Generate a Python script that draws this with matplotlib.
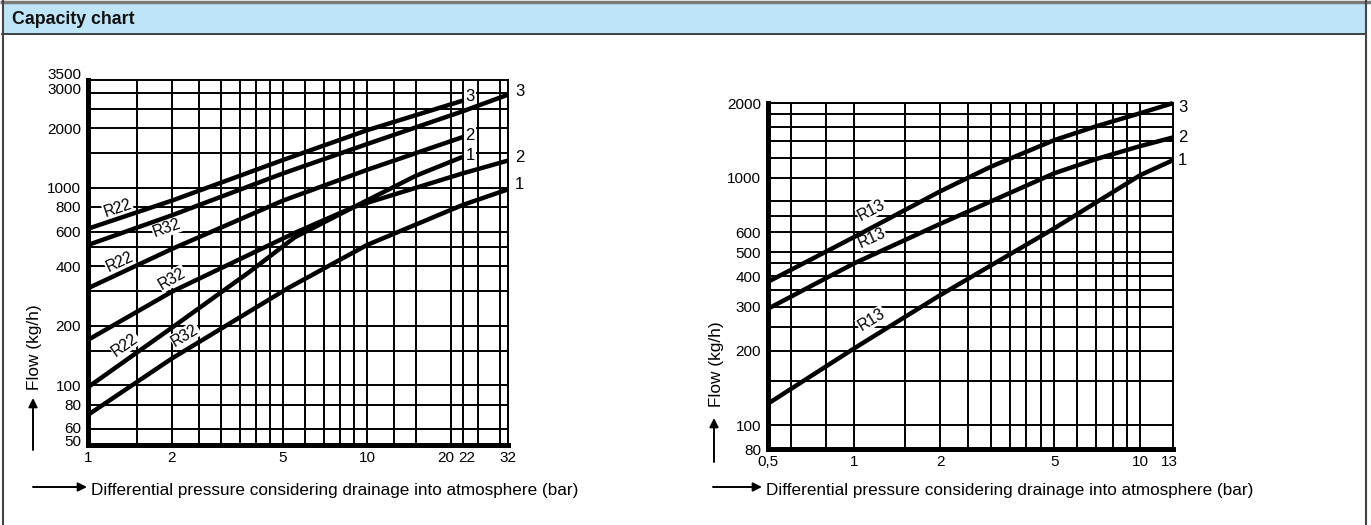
import numpy as np
import matplotlib
matplotlib.use("Agg")
import matplotlib.pyplot as plt
import matplotlib.transforms as mtransforms

plt.rcParams['font.family'] = ['Liberation Sans', 'DejaVu Sans']

# ---------------- data ----------------
title = "Capacity chart"
x_label = "Differential pressure considering drainage into atmosphere (bar)"
y_label = "Flow (kg/h)"

# left chart (R22 / R32)
left_xlim = (1, 32)
left_ylim = (50, 3500)
left_x_ticks = [1, 2, 5, 10, 20, 22, 32]
left_x_ticklabels = ["1", "2", "5", "10", "20", "22", "32"]
left_y_ticks = [50, 60, 80, 100, 200, 400, 600, 800, 1000, 2000, 3000, 3500]
left_y_ticklabels = ["50", "60", "80", "100", "200", "400", "600", "800", "1000", "2000", "3000", "3500"]
left_x_grid = [1, 1.5, 2, 2.5, 3, 3.5, 4, 4.5, 5, 6, 7, 8, 9, 10, 12.5, 15, 20, 22, 25, 30, 32]
left_y_grid = [50, 60, 80, 100, 150, 200, 300, 400, 500, 600, 800, 1000, 1500, 2000, 2500, 3000, 3500]

r22_3_x = [1, 2, 5, 10, 22]
r22_3_y = [620, 860, 1380, 1950, 2750]
r32_3_x = [1, 2, 5, 10, 22, 32]
r32_3_y = [513, 725, 1180, 1660, 2430, 2950]
r22_2_x = [1, 2, 5, 10, 22]
r22_2_y = [310, 490, 860, 1230, 1800]
r32_2_x = [1, 2, 5.5, 9, 22, 32]
r32_2_y = [170, 298, 590, 800, 1180, 1370]
r22_1_x = [1, 2, 3.8, 5.5, 9, 15, 22]
r22_1_y = [98, 196, 376, 560, 800, 1150, 1430]
r32_1_x = [1, 2, 5.2, 10, 22, 32]
r32_1_y = [71, 137, 310, 513, 817, 980]

# right chart (R13)
right_xlim = (0.5, 13)
right_ylim = (80, 2000)
right_x_ticks = [0.5, 1, 2, 5, 10, 13]
right_x_ticklabels = ["0,5", "1", "2", "5", "10", "13"]
right_y_ticks = [80, 100, 200, 300, 400, 500, 600, 1000, 2000]
right_y_ticklabels = ["80", "100", "200", "300", "400", "500", "600", "1000", "2000"]
right_x_grid = [0.5, 0.6, 0.8, 1, 1.5, 2, 2.5, 3, 3.5, 4, 4.5, 5, 6, 7, 8, 9, 10, 13]
right_y_grid = [80, 100, 150, 200, 250, 300, 350, 400, 450, 500, 600, 700, 800,
                1000, 1200, 1400, 1600, 1800, 2000]

r13_3_x = [0.5, 1, 2, 3, 5, 7, 10, 13]
r13_3_y = [379, 575, 880, 1105, 1416, 1610, 1820, 1997]
r13_2_x = [0.5, 1, 2, 5, 7, 10, 13]
r13_2_y = [295, 450, 650, 1040, 1187, 1340, 1452]
r13_1_x = [0.5, 1, 2, 5, 10, 13]
r13_1_y = [122, 204, 335, 623, 1023, 1175]

# ---------------- figure ----------------
W, H = 1371, 525
DPI = 100
fig = plt.figure(figsize=(W / DPI, H / DPI), dpi=DPI)
fig.patch.set_facecolor("white")


def px_box(l, t, r, b):
    return [l / W, 1 - b / H, (r - l) / W, (b - t) / H]


bg = fig.add_axes([0, 0, 1, 1], zorder=0)
bg.set_xlim(0, W)
bg.set_ylim(H, 0)
bg.axis("off")

# header band and frame
bg.add_patch(plt.Rectangle((2, 2), 1364, 32, facecolor="#BEE4F8", edgecolor="none"))
bg.plot([0, W], [1.5, 1.5], color="#7a7a7a", lw=2.5, solid_capstyle="butt")
bg.plot([2, 1366], [34, 34], color="#333333", lw=1.3)
bg.plot([2.5, 2.5], [0, H], color="#444444", lw=1.5)
bg.plot([1366, 1366], [0, H], color="#444444", lw=1.5)
bg.text(12, 19, title, fontsize=12.8, fontweight="bold", ha="left", va="center", color="#111111")

GRID_LW = 1.4
CURVE_LW = 3.2
TICK_FS = 11


def shift(label, dx, dy):
    label.set_transform(label.get_transform()
                        + mtransforms.ScaledTranslation(dx / DPI, dy / DPI, fig.dpi_scale_trans))


def setup_axes(box, xlim, ylim, xgrid, ygrid, xticks, xticklabels, yticks, yticklabels):
    ax = fig.add_axes(px_box(*box), zorder=2)
    ax.set_xscale("log")
    ax.set_yscale("log")
    ax.set_xlim(*xlim)
    ax.set_ylim(*ylim)
    for gx in xgrid:
        ax.axvline(gx, color="black", lw=GRID_LW, zorder=1)
    for gy in ygrid:
        ax.axhline(gy, color="black", lw=GRID_LW, zorder=1)
    ax.xaxis.set_minor_locator(matplotlib.ticker.NullLocator())
    ax.yaxis.set_minor_locator(matplotlib.ticker.NullLocator())
    ax.set_xticks(xticks)
    ax.set_xticklabels(xticklabels)
    ax.set_yticks(yticks)
    ax.set_yticklabels(yticklabels)
    ax.tick_params(length=0, labelsize=TICK_FS, colors="black")
    ax.tick_params(axis="y", pad=5)
    ax.tick_params(axis="x", pad=4)
    for side in ("left", "bottom"):
        ax.spines[side].set_linewidth(3.6)
        ax.spines[side].set_zorder(6)
    for side in ("top", "right"):
        ax.spines[side].set_linewidth(GRID_LW)
    ax.set_facecolor("white")
    return ax


axL = setup_axes((88, 80, 508, 445), left_xlim, left_ylim, left_x_grid, left_y_grid,
                 left_x_ticks, left_x_ticklabels, left_y_ticks, left_y_ticklabels)
axR = setup_axes((768, 103, 1173, 449), right_xlim, right_ylim, right_x_grid, right_y_grid,
                 right_x_ticks, right_x_ticklabels, right_y_ticks, right_y_ticklabels)

# nudge crowded tick labels
labsL = axL.get_xticklabels()
shift(labsL[4], -5, 0)
shift(labsL[5], 4, 0)
labsLy = axL.get_yticklabels()
shift(labsLy[0], 0, 4)     # 50
shift(labsLy[1], 0, 2)     # 60
shift(labsLy[-2], 0, 5)    # 3000
shift(labsLy[-1], 0, 7)    # 3500
labsR = axR.get_xticklabels()
shift(labsR[5], -4, 0)

curvesL = [(r22_3_x, r22_3_y), (r32_3_x, r32_3_y), (r22_2_x, r22_2_y),
           (r32_2_x, r32_2_y), (r22_1_x, r22_1_y), (r32_1_x, r32_1_y)]
for cx, cy in curvesL:
    axL.plot(cx, cy, color="black", lw=CURVE_LW, zorder=5, clip_on=False,
             solid_joinstyle="round", solid_capstyle="butt")

curvesR = [(r13_3_x, r13_3_y), (r13_2_x, r13_2_y), (r13_1_x, r13_1_y)]
for cx, cy in curvesR:
    axR.plot(cx, cy, color="black", lw=CURVE_LW, zorder=5, clip_on=False,
             solid_joinstyle="round", solid_capstyle="butt")


def seg_point_angle(ax, xs, ys, x0):
    """Point on the drawn curve at x0 and its angle on screen."""
    lx = np.log10(xs)
    ly = np.log10(ys)
    i = int(np.clip(np.searchsorted(lx, np.log10(x0)) - 1, 0, len(lx) - 2))
    t = (np.log10(x0) - lx[i]) / (lx[i + 1] - lx[i])
    y0 = 10 ** (ly[i] + t * (ly[i + 1] - ly[i]))
    p1 = ax.transData.transform((xs[i], ys[i]))
    p2 = ax.transData.transform((xs[i + 1], ys[i + 1]))
    ang = np.degrees(np.arctan2(p2[1] - p1[1], p2[0] - p1[0]))
    return y0, ang


def curve_label(ax, text, xs, ys, x0, off):
    y0, ang = seg_point_angle(ax, xs, ys, x0)
    ax.annotate(text, xy=(x0, y0), xytext=off, textcoords="offset pixels",
                rotation=ang, rotation_mode="anchor", ha="center", va="center",
                fontsize=11.3, zorder=4,
                bbox=dict(boxstyle="square,pad=0.05", facecolor="white", edgecolor="none"))


curve_label(axL, "R22", r22_3_x, r22_3_y, 1.28, (0, 10))
curve_label(axL, "R32", r32_3_x, r32_3_y, 1.92, (0, -11))
curve_label(axL, "R22", r22_2_x, r22_2_y, 1.30, (0, 11))
curve_label(axL, "R32", r32_2_x, r32_2_y, 2.00, (0, 13))
curve_label(axL, "R22", r22_1_x, r22_1_y, 1.36, (0, 16))
curve_label(axL, "R32", r32_1_x, r32_1_y, 2.23, (0, 15))
curve_label(axR, "R13", r13_3_x, r13_3_y, 1.15, (0, 18))
curve_label(axR, "R13", r13_2_x, r13_2_y, 1.15, (0, 17))
curve_label(axR, "R13", r13_1_x, r13_1_y, 1.15, (0, 18))


def end_label(ax, text, xs, ys, off):
    ax.annotate(text, xy=(xs[-1], ys[-1]), xytext=off, textcoords="offset pixels",
                ha="left", va="center", fontsize=12, zorder=4, annotation_clip=False,
                bbox=dict(boxstyle="square,pad=0.08", facecolor="white", edgecolor="none"))


end_label(axL, "3", r22_3_x, r22_3_y, (3, 4))
end_label(axL, "2", r22_2_x, r22_2_y, (3, 2))
end_label(axL, "1", r22_1_x, r22_1_y, (3, 1))
end_label(axL, "3", r32_3_x, r32_3_y, (7, 3))
end_label(axL, "2", r32_2_x, r32_2_y, (7, 3))
end_label(axL, "1", r32_1_x, r32_1_y, (7, 5))
end_label(axR, "3", r13_3_x, r13_3_y, (5, -4))
end_label(axR, "2", r13_2_x, r13_2_y, (5, 0))
end_label(axR, "1", r13_1_x, r13_1_y, (5, 0))

# axis titles with arrows
arrow_kw = dict(arrowstyle="-|>", lw=1.4, color="black", mutation_scale=13, shrinkA=0, shrinkB=0)
for (ax_x, y_top, y_bot, lab_y) in ((33, 398, 450, 347), (714, 418, 462, 364)):
    bg.annotate("", xy=(ax_x, y_top), xytext=(ax_x, y_bot), arrowprops=arrow_kw)
    bg.text(ax_x + 2, lab_y, y_label, rotation=90, ha="center", va="center", fontsize=12.4)
for (x0, x1, ty) in ((33, 87, 490), (713, 762, 490)):
    bg.annotate("", xy=(x1, ty - 3), xytext=(x0, ty - 3), arrowprops=arrow_kw)
    bg.text(x1 + 4, ty, x_label, ha="left", va="center", fontsize=12.3)

fig.savefig("out.png", dpi=DPI, facecolor="white")
